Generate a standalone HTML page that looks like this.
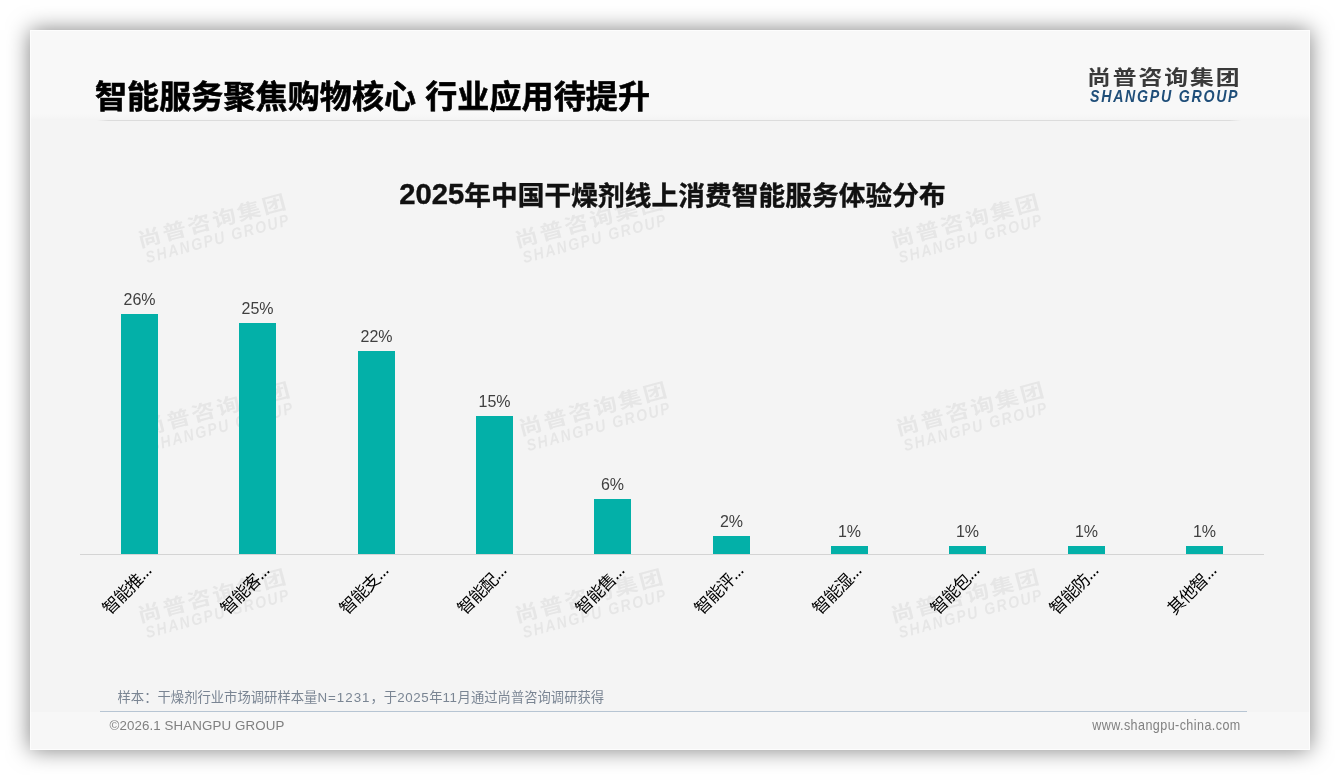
<!DOCTYPE html>
<html lang="zh-CN">
<head>
<meta charset="utf-8">
<title>智能服务聚焦购物核心 行业应用待提升</title>
<style>
html,body{margin:0;padding:0;}
body{width:1340px;height:780px;background:#fff;position:relative;overflow:hidden;
 font-family:"Liberation Sans","Noto Sans CJK SC",sans-serif;}
.slide{position:absolute;left:30px;top:30px;width:1280px;height:720px;background:#f4f4f4;
 box-shadow:0 0 21px rgba(0,0,0,.5);overflow:hidden;}
.slide .edge{position:absolute;left:0;top:0;right:0;bottom:0;border:1px solid rgba(255,255,255,.7);z-index:9;}
.top{position:absolute;left:0;top:0;width:1280px;height:90px;background:linear-gradient(#f8f8f8 0,#f8f8f8 84px,#f4f4f4 90px);}
.bot{position:absolute;left:0;top:682px;width:1280px;height:38px;background:#f7f7f7;}
.hline{position:absolute;left:67px;top:90px;width:1144px;height:1px;
 background:linear-gradient(90deg,rgba(220,220,220,0),#dcdcdc 1%,#dcdcdc 99%,rgba(220,220,220,0));}
.fline{position:absolute;left:70px;top:681px;width:1147px;height:1px;background:#b7c5d3;}
h1{position:absolute;left:65px;top:43px;margin:0;font-size:32px;line-height:48px;font-weight:700;color:#000;white-space:nowrap;letter-spacing:.12px;-webkit-text-stroke:.6px #000;}
.logo{position:absolute;left:1059px;top:32px;width:148px;height:44px;}
.logo .cn{position:absolute;left:-2px;top:1.5px;font-size:20px;line-height:28px;font-weight:700;color:#3a3a3a;white-space:nowrap;
 transform-origin:0 0;transform:scaleX(1.19);letter-spacing:1.64px;}
.logo .en{position:absolute;left:1px;top:24.5px;font-size:16.5px;line-height:18px;font-weight:700;font-style:italic;color:#1f4e79;white-space:nowrap;letter-spacing:2px;
 transform-origin:0 0;transform:scaleX(.86);}
.ctitle{position:absolute;left:342.5px;top:145px;width:600px;text-align:center;letter-spacing:.1px;-webkit-text-stroke:.4px #111;font-size:26.67px;line-height:40px;font-weight:700;color:#111;white-space:nowrap;}
.ctitle .n{font-size:29.2px;position:relative;top:-1.2px;letter-spacing:0;}
.wm .en{color:#3a3a3a;}
.tbox{position:absolute;left:367px;top:145px;width:549px;height:33px;background:#f4f4f4;}
.wm{position:absolute;width:148px;height:44px;opacity:.07;transform:rotate(-15deg);transform-origin:50% 50%;}
.axis{position:absolute;left:50px;top:524px;width:1184px;height:1px;background:#d4d4d4;}
.bar{position:absolute;background:#03b0a8;}
.val{position:absolute;width:60px;text-align:center;font-size:16px;line-height:18px;color:#404040;}
.cat{position:absolute;font-size:17px;line-height:20px;color:#000;white-space:nowrap;transform-origin:100% 100%;transform:rotate(-45deg);letter-spacing:-1px;}
.cat i{font-style:normal;font-weight:700;font-size:13.2px;letter-spacing:0;position:relative;top:-1.3px;margin-left:.5px;}
.sample{position:absolute;left:87.5px;top:659px;font-size:13.33px;line-height:18px;color:#7a8593;white-space:nowrap;}
.sample span{letter-spacing:.6px;}
.copy{position:absolute;left:79.5px;top:687px;font-size:13.33px;line-height:18px;color:#808080;white-space:nowrap;letter-spacing:.1px;}
.url{position:absolute;right:69.5px;top:686px;font-size:14.6px;line-height:18px;color:#808080;white-space:nowrap;letter-spacing:.5px;transform-origin:100% 50%;transform:scaleX(.86);}
</style>
</head>
<body>
<div class="slide">
<div class="top"></div>
<div class="bot"></div>
<div class="wm logo" style="left:108.6px;top:175.3px"><div class="cn">尚普咨询集团</div><div class="en">SHANGPU GROUP</div></div>
<div class="wm logo" style="left:485.5px;top:175.3px"><div class="cn">尚普咨询集团</div><div class="en">SHANGPU GROUP</div></div>
<div class="wm logo" style="left:862.4px;top:175.3px"><div class="cn">尚普咨询集团</div><div class="en">SHANGPU GROUP</div></div>
<div class="wm logo" style="left:113.3px;top:362.8px"><div class="cn">尚普咨询集团</div><div class="en">SHANGPU GROUP</div></div>
<div class="wm logo" style="left:490.2px;top:362.8px"><div class="cn">尚普咨询集团</div><div class="en">SHANGPU GROUP</div></div>
<div class="wm logo" style="left:867.1px;top:362.8px"><div class="cn">尚普咨询集团</div><div class="en">SHANGPU GROUP</div></div>
<div class="wm logo" style="left:108.6px;top:550.3px"><div class="cn">尚普咨询集团</div><div class="en">SHANGPU GROUP</div></div>
<div class="wm logo" style="left:485.5px;top:550.3px"><div class="cn">尚普咨询集团</div><div class="en">SHANGPU GROUP</div></div>
<div class="wm logo" style="left:862.4px;top:550.3px"><div class="cn">尚普咨询集团</div><div class="en">SHANGPU GROUP</div></div>
<div class="tbox"></div>
<div class="hline"></div>
<h1>智能服务聚焦购物核心 行业应用待提升</h1>
<div class="logo"><div class="cn">尚普咨询集团</div><div class="en">SHANGPU GROUP</div></div>
<div class="ctitle"><span class="n">2025</span>年中国干燥剂线上消费智能服务体验分布</div>
<div class="axis"></div>
<div class="bar" style="left:91.0px;top:284.0px;width:37px;height:240.0px"></div><div class="val" style="left:79.5px;top:261.0px">26%</div><div class="cat" style="right:1152.3px;top:524.7px">智能推<i>…</i></div>
<div class="bar" style="left:209.0px;top:293.0px;width:37px;height:231.0px"></div><div class="val" style="left:197.5px;top:270.0px">25%</div><div class="cat" style="right:1034.3px;top:524.7px">智能客<i>…</i></div>
<div class="bar" style="left:328.0px;top:321.0px;width:37px;height:203.0px"></div><div class="val" style="left:316.5px;top:298.0px">22%</div><div class="cat" style="right:915.3px;top:524.7px">智能支<i>…</i></div>
<div class="bar" style="left:446.0px;top:386.0px;width:37px;height:138.0px"></div><div class="val" style="left:434.5px;top:363.0px">15%</div><div class="cat" style="right:797.3px;top:524.7px">智能配<i>…</i></div>
<div class="bar" style="left:564.0px;top:469.0px;width:37px;height:55.0px"></div><div class="val" style="left:552.5px;top:446.0px">6%</div><div class="cat" style="right:679.3px;top:524.7px">智能售<i>…</i></div>
<div class="bar" style="left:683.0px;top:506.0px;width:37px;height:18.0px"></div><div class="val" style="left:671.5px;top:483.0px">2%</div><div class="cat" style="right:560.3px;top:524.7px">智能评<i>…</i></div>
<div class="bar" style="left:801.0px;top:516.0px;width:37px;height:8.0px"></div><div class="val" style="left:789.5px;top:493.0px">1%</div><div class="cat" style="right:442.3px;top:524.7px">智能湿<i>…</i></div>
<div class="bar" style="left:919.0px;top:516.0px;width:37px;height:8.0px"></div><div class="val" style="left:907.5px;top:493.0px">1%</div><div class="cat" style="right:324.3px;top:524.7px">智能包<i>…</i></div>
<div class="bar" style="left:1038.0px;top:516.0px;width:37px;height:8.0px"></div><div class="val" style="left:1026.5px;top:493.0px">1%</div><div class="cat" style="right:205.3px;top:524.7px">智能防<i>…</i></div>
<div class="bar" style="left:1156.0px;top:516.0px;width:37px;height:8.0px"></div><div class="val" style="left:1144.5px;top:493.0px">1%</div><div class="cat" style="right:87.3px;top:524.7px">其他智<i>…</i></div>
<div class="sample">样本：干燥剂行业市场调研样本量<span style="letter-spacing:1px">N=1231</span>，于<span>2025</span>年<span>11</span>月通过尚普咨询调研获得</div>
<div class="fline"></div>
<div class="copy">©2026.1 SHANGPU GROUP</div>
<div class="url">www.shangpu-china.com</div>
<div class="edge"></div>
</div>
</body>
</html>
